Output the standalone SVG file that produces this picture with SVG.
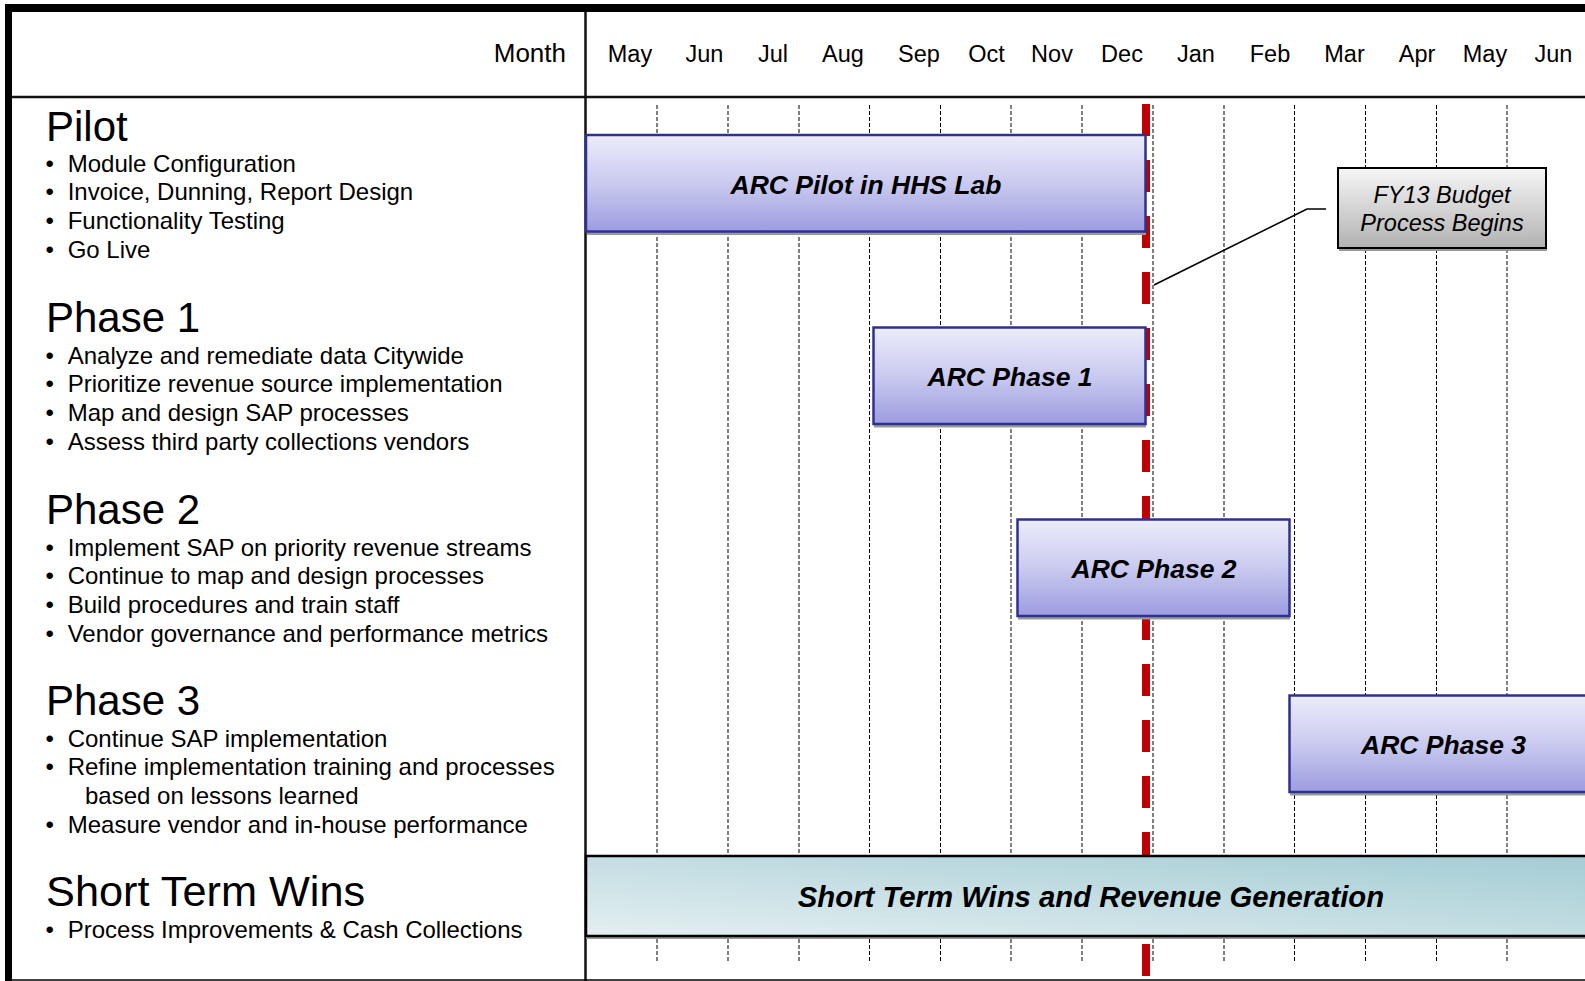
<svg xmlns="http://www.w3.org/2000/svg" width="1585" height="981" viewBox="0 0 1585 981">
<style>
text{font-family:"Liberation Sans",Arial,sans-serif;fill:#000}
.mon{font-size:23.5px;text-anchor:middle}
.h{font-size:42px}
.b{font-size:24px}
.bar{font-size:26.5px;font-weight:bold;font-style:italic;text-anchor:middle}
.grid{stroke:#000;stroke-width:1;stroke-dasharray:4 2}
.pbar{fill:url(#gP);stroke:#2e3192;stroke-width:2.5}
.shadow{fill:#9a9a9a}
</style>
<defs>
<linearGradient id="gP" x1="0" y1="0" x2="0" y2="1">
<stop offset="0" stop-color="#ececfa"/>
<stop offset="0.5" stop-color="#cacaf0"/>
<stop offset="1" stop-color="#9c9ce0"/>
</linearGradient>
<linearGradient id="gS" x1="0" y1="1" x2="1" y2="0">
<stop offset="0" stop-color="#e4eff1"/>
<stop offset="1" stop-color="#a3ccd4"/>
</linearGradient>
<linearGradient id="gC" x1="0" y1="0" x2="0" y2="1">
<stop offset="0" stop-color="#f6f6f6"/>
<stop offset="1" stop-color="#b2b2b2"/>
</linearGradient>
</defs>
<rect x="0" y="0" width="1585" height="981" fill="#fff"/>

<g id="frame">
<rect x="5" y="4" width="1580" height="8" fill="#000"/>
<rect x="5" y="4" width="7" height="977" fill="#000"/>
<line x1="12" y1="97" x2="1585" y2="97" stroke="#111" stroke-width="2.5"/>
<line x1="585.5" y1="12" x2="585.5" y2="981" stroke="#111" stroke-width="2.5"/>
<line x1="12" y1="980" x2="1585" y2="980" stroke="#000" stroke-width="1.5"/>
</g>

<g id="header">
<text x="566" y="62" font-size="26" text-anchor="end">Month</text>
<text class="mon" x="630" y="62">May</text>
<text class="mon" x="704.5" y="62">Jun</text>
<text class="mon" x="773" y="62">Jul</text>
<text class="mon" x="843" y="62">Aug</text>
<text class="mon" x="919" y="62">Sep</text>
<text class="mon" x="986.5" y="62">Oct</text>
<text class="mon" x="1052" y="62">Nov</text>
<text class="mon" x="1122" y="62">Dec</text>
<text class="mon" x="1196" y="62">Jan</text>
<text class="mon" x="1270" y="62">Feb</text>
<text class="mon" x="1344.5" y="62">Mar</text>
<text class="mon" x="1417" y="62">Apr</text>
<text class="mon" x="1485" y="62">May</text>
<text class="mon" x="1553.5" y="62">Jun</text>
</g>

<g id="gridlines">
<line class="grid" x1="657" y1="105" x2="657" y2="963"/>
<line class="grid" x1="728" y1="105" x2="728" y2="963"/>
<line class="grid" x1="799" y1="105" x2="799" y2="963"/>
<line class="grid" x1="869.5" y1="105" x2="869.5" y2="963"/>
<line class="grid" x1="940.5" y1="105" x2="940.5" y2="963"/>
<line class="grid" x1="1011" y1="105" x2="1011" y2="963"/>
<line class="grid" x1="1082" y1="105" x2="1082" y2="963"/>
<line class="grid" x1="1153" y1="105" x2="1153" y2="963"/>
<line class="grid" x1="1224" y1="105" x2="1224" y2="963"/>
<line class="grid" x1="1294.5" y1="105" x2="1294.5" y2="963"/>
<line class="grid" x1="1365.5" y1="105" x2="1365.5" y2="963"/>
<line class="grid" x1="1436.5" y1="105" x2="1436.5" y2="963"/>
<line class="grid" x1="1507" y1="105" x2="1507" y2="963"/>
</g>

<g id="today-line">
<line x1="1146" y1="104" x2="1146" y2="977" stroke="#c00000" stroke-width="8" stroke-dasharray="32 24"/>
</g>

<g id="left-text">
<g id="pilot-text">
<text class="h" x="46" y="140.5">Pilot</text>
<text class="b" x="45.5" y="171.5">•</text><text class="b" x="67.7" y="171.5">Module Configuration</text>
<text class="b" x="45.5" y="200.2">•</text><text class="b" x="67.7" y="200.2">Invoice, Dunning, Report Design</text>
<text class="b" x="45.5" y="228.9">•</text><text class="b" x="67.7" y="228.9">Functionality Testing</text>
<text class="b" x="45.5" y="257.6">•</text><text class="b" x="67.7" y="257.6">Go Live</text>
</g>
<g id="phase1-text">
<text class="h" x="46" y="331.6">Phase 1</text>
<text class="b" x="45.5" y="363.6">•</text><text class="b" x="67.7" y="363.6">Analyze and remediate data Citywide</text>
<text class="b" x="45.5" y="392.3">•</text><text class="b" x="67.7" y="392.3">Prioritize revenue source implementation</text>
<text class="b" x="45.5" y="421">•</text><text class="b" x="67.7" y="421">Map and design SAP processes</text>
<text class="b" x="45.5" y="449.7">•</text><text class="b" x="67.7" y="449.7">Assess third party collections vendors</text>
</g>
<g id="phase2-text">
<text class="h" x="46" y="523.6">Phase 2</text>
<text class="b" x="45.5" y="555.6">•</text><text class="b" x="67.7" y="555.6">Implement SAP on priority revenue streams</text>
<text class="b" x="45.5" y="584.3">•</text><text class="b" x="67.7" y="584.3">Continue to map and design processes</text>
<text class="b" x="45.5" y="613">•</text><text class="b" x="67.7" y="613">Build procedures and train staff</text>
<text class="b" x="45.5" y="641.7">•</text><text class="b" x="67.7" y="641.7">Vendor governance and performance metrics</text>
</g>
<g id="phase3-text">
<text class="h" x="46" y="714.7">Phase 3</text>
<text class="b" x="45.5" y="746.7">•</text><text class="b" x="67.7" y="746.7">Continue SAP implementation</text>
<text class="b" x="45.5" y="775.4">•</text><text class="b" x="67.7" y="775.4">Refine implementation training and processes</text>
<text class="b" x="85" y="804.1">based on lessons learned</text>
<text class="b" x="45.5" y="832.8">•</text><text class="b" x="67.7" y="832.8">Measure vendor and in-house performance</text>
</g>
<g id="stw-text">
<text x="46" y="905.8" font-size="43.3px">Short Term Wins</text>
<text class="b" x="45.5" y="937.8">•</text><text class="b" x="67.7" y="937.8">Process Improvements &amp; Cash Collections</text>
</g>
</g>

<g id="bar-pilot">
<rect class="shadow" x="587" y="138" width="559" height="97"/>
<rect class="pbar" x="586" y="135" width="559.5" height="96.5"/>
<text class="bar" x="866" y="193.5">ARC Pilot in HHS Lab</text>
</g>
<g id="bar-phase1">
<rect class="shadow" x="874" y="330.5" width="272" height="97"/>
<rect class="pbar" x="873.5" y="327.5" width="272" height="96.5"/>
<text class="bar" x="1010" y="386">ARC Phase 1</text>
</g>
<g id="bar-phase2">
<rect class="shadow" x="1018" y="522.5" width="272" height="97"/>
<rect class="pbar" x="1017.5" y="519.5" width="272" height="96.5"/>
<text class="bar" x="1154" y="578">ARC Phase 2</text>
</g>
<g id="bar-phase3">
<rect class="shadow" x="1290" y="698.5" width="320" height="97"/>
<rect class="pbar" x="1289.5" y="695.5" width="308" height="96.5"/>
<text class="bar" x="1443.5" y="754">ARC Phase 3</text>
</g>
<g id="bar-stw">
<rect class="shadow" x="586" y="859" width="1010" height="80"/>
<rect x="586" y="856" width="1010" height="80" fill="url(#gS)" stroke="#000" stroke-width="2.5"/>
<text x="1091" y="906.5" font-size="29.3" font-weight="bold" font-style="italic" text-anchor="middle">Short Term Wins and Revenue Generation</text>
</g>

<g id="connectors">
<polyline points="1154,285 1307,209 1326,209" fill="none" stroke="#000" stroke-width="1.6"/>
</g>

<g id="callout">
<rect class="shadow" x="1339" y="171" width="208" height="80"/>
<rect x="1338" y="168" width="208" height="80" fill="url(#gC)" stroke="#000" stroke-width="2"/>
<text x="1442" y="203" font-size="23.5" font-style="italic" text-anchor="middle">FY13 Budget</text>
<text x="1442" y="230.5" font-size="23.5" font-style="italic" text-anchor="middle">Process Begins</text>
</g>
</svg>
